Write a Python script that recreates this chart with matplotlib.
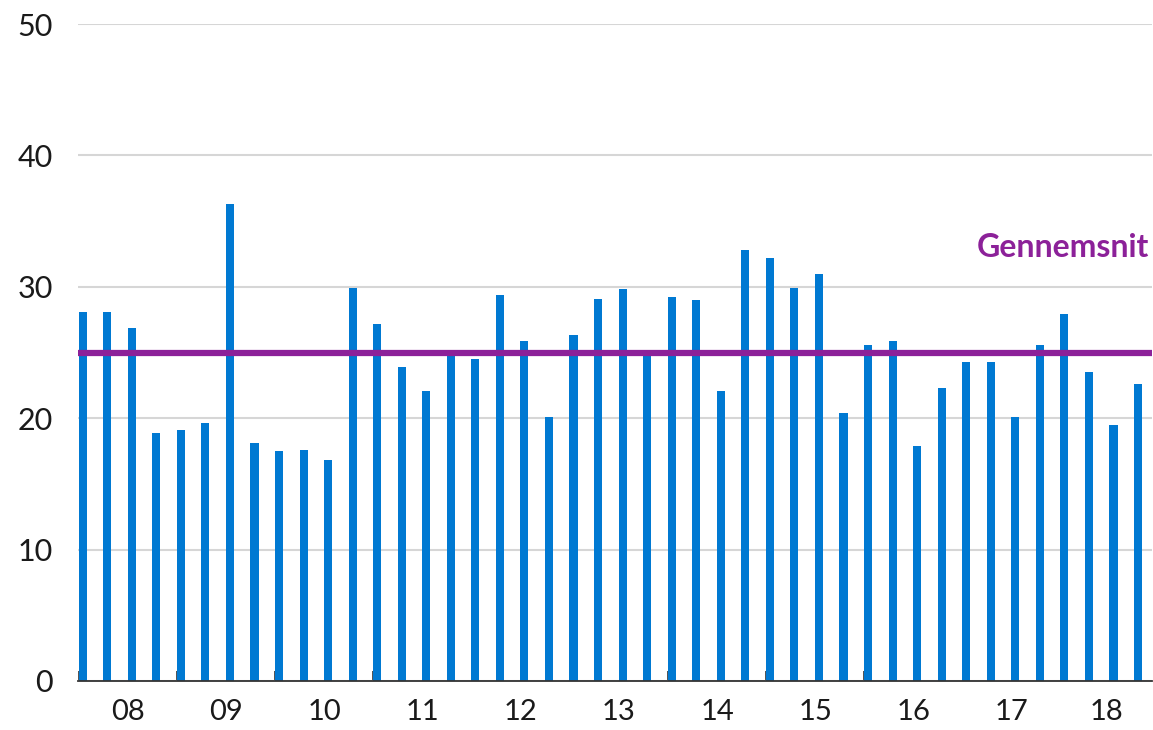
import numpy as np
import matplotlib.pyplot as plt

# Quarterly values 2008-2018 (4 bars per year)
years = ["08", "09", "10", "11", "12", "13", "14", "15", "16", "17", "18"]
values = [28.1, 28.1, 26.9, 18.9, 19.1, 19.6, 36.3, 18.1,
          17.5, 17.6, 16.8, 29.9, 27.2, 23.9, 22.1, 25.2,
          24.5, 29.4, 25.9, 20.1, 26.3, 29.1, 29.8, 24.8,
          29.2, 29.0, 22.1, 32.8, 32.2, 29.9, 31.0, 20.4,
          25.6, 25.9, 17.9, 22.3, 24.3, 24.3, 20.1, 25.6,
          27.9, 23.5, 19.5, 22.6]
average = 25.0
avg_label = "Gennemsnit"

blue = "#0079d2"
purple = "#8c2199"

plt.rcParams['font.family'] = ['Lato', 'DejaVu Sans']

fig = plt.figure(figsize=(11.53, 7.3), dpi=100)
ax = fig.add_axes([78 / 1153, 49 / 730, 1074 / 1153, 657 / 730])

x = np.arange(len(values))
ax.bar(x, values, width=0.33, color=blue, zorder=2)
ax.axhline(average, color=purple, lw=4.5, zorder=3)
ax.text(43.45, average + 8.0, avg_label, color=purple, fontsize=23,
        fontweight='bold', ha='right', va='center')

ax.set_xlim(-0.19, 43.57)
ax.set_ylim(0, 50)
ax.set_yticks(range(0, 51, 10))
ax.yaxis.grid(True, color="#d6d6d6", lw=1.5, zorder=0)
ax.tick_params(axis='y', length=0, pad=18, labelsize=22, labelcolor="#1a1a1a")

# year boundaries as inside ticks, labels centred between them
bounds = np.arange(len(years)) * 4 - 0.15
ax.set_xticks(bounds)
ax.set_xticklabels([])
ax.tick_params(axis='x', which='major', direction='in', length=7,
               width=1.2, color="#333333")
centers = [min(b + 4, 43.57) / 2 + b / 2 for b in bounds]
ax.set_xticks(centers, minor=True)
ax.set_xticklabels(years, minor=True)
ax.tick_params(axis='x', which='minor', length=0, pad=13, labelsize=21,
               labelcolor="#1a1a1a")

for s in ['top', 'right', 'left']:
    ax.spines[s].set_visible(False)
ax.spines['bottom'].set_color("#333333")
ax.spines['bottom'].set_linewidth(1.3)
ax.spines['bottom'].set_zorder(4)

fig.savefig("out.png", dpi=100)
